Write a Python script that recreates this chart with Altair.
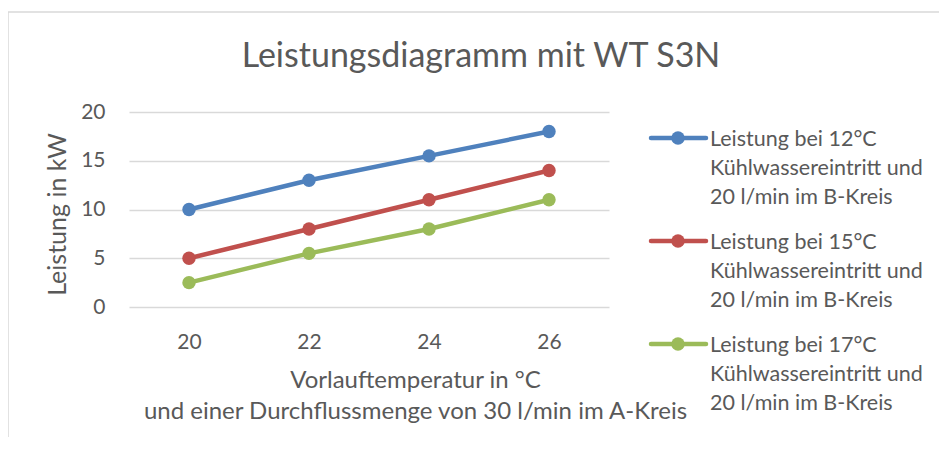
import altair as alt
import pandas as pd

# ---- data ----
temps = ["20", "22", "24", "26"]
series_keys = ["12", "15", "17"]
values_12 = [10, 13, 15.5, 18]
values_15 = [5, 8, 11, 14]
values_17 = [2.5, 5.5, 8, 11]
series_colors = ["#4F81BD", "#C0504D", "#9BBB59"]
legend_labels = [
    "Leistung bei 12°C\nKühlwassereintritt und\n20 l/min im B-Kreis",
    "Leistung bei 15°C\nKühlwassereintritt und\n20 l/min im B-Kreis",
    "Leistung bei 17°C\nKühlwassereintritt und\n20 l/min im B-Kreis",
]
y_ticks = [0, 5, 10, 15, 20]
title_text = "Leistungsdiagramm mit WT S3N"
x_title = ["Vorlauftemperatur in °C", "und einer Durchflussmenge von 30 l/min im A-Kreis"]
y_title = "Leistung in kW"

rows = []
for key, vals in zip(series_keys, [values_12, values_15, values_17]):
    for t, v in zip(temps, vals):
        rows.append({"temp": t, "value": v, "series": key})
df = pd.DataFrame(rows)
legend_df = pd.DataFrame({"series": series_keys, "label": legend_labels})
one_df = pd.DataFrame({"t": [title_text]})

FONT = "Lato"
TXT = "#595959"
GRID = "#D9D9D9"

color = alt.Color("series:N", scale=alt.Scale(domain=series_keys, range=series_colors), legend=None)

lines = alt.Chart(df).mark_line(
    strokeWidth=4.5,
    point=alt.OverlayMarkDef(filled=True, size=180, opacity=1),
).encode(
    x=alt.X("temp:O", sort=temps,
            axis=alt.Axis(title=x_title, labelAngle=0, domain=False, ticks=False, tickSize=0,
                          labelPadding=24, labelFontSize=21, labelColor=TXT, labelFont=FONT,
                          titleFontSize=24, titleColor=TXT, titleFont=FONT, titleFontWeight="normal",
                          titleX=286, titleY=80, titleBaseline="alphabetic", titleAlign="center",
                          titleLineHeight=31)),
    y=alt.Y("value:Q", scale=alt.Scale(domain=[0, 20], nice=False),
            axis=alt.Axis(title=y_title, values=y_ticks, domain=False, ticks=False, tickSize=0,
                          labelPadding=24, labelFontSize=21, labelColor=TXT, labelFont=FONT,
                          gridColor=GRID, gridWidth=1.5,
                          titleFontSize=25, titleColor=TXT, titleFont=FONT, titleFontWeight="normal",
                          titleX=-64, titleY=102, titleAngle=270, titleBaseline="alphabetic",
                          titleAlign="center")),
    color=color,
)

leg_y = alt.Y("series:N", sort=series_keys, axis=None,
              scale=alt.Scale(type="point", domain=series_keys, range=[26, 232], padding=0))

leg_rule = alt.Chart(legend_df).mark_rule(strokeWidth=4.5, strokeCap="round").encode(
    x=alt.value(522), x2=alt.value(577), y=leg_y, color=color)
leg_pt = alt.Chart(legend_df).mark_point(filled=True, size=180, opacity=1).encode(
    x=alt.value(549), y=leg_y, color=color)
leg_txt = alt.Chart(legend_df).mark_text(
    align="left", baseline="alphabetic", dy=8, lineBreak="\n", lineHeight=29,
    fontSize=21.5, font=FONT, color=TXT,
).encode(x=alt.value(581), y=leg_y, text="label:N")

title_mark = alt.Chart(one_df).mark_text(
    align="center", baseline="alphabetic", fontSize=34, font=FONT, color=TXT,
).encode(x=alt.value(352), y=alt.value(-45), text="t:N")

frame_v = alt.Chart(one_df).mark_rule(color=GRID, strokeWidth=1.5).encode(
    x=alt.value(-121), y=alt.value(-100), y2=alt.value(330))
frame_h = alt.Chart(one_df).mark_rule(color=GRID, strokeWidth=1.5).encode(
    x=alt.value(-121), x2=alt.value(820), y=alt.value(-100))

chart = alt.layer(frame_v, frame_h, title_mark, lines, leg_rule, leg_pt, leg_txt).resolve_scale(
    y="independent"
).properties(
    width=480, height=195,
    padding={"left": 121, "top": 104, "right": 330, "bottom": 130},
    autosize="none",
    background="white",
).configure_view(strokeOpacity=0)

chart.save("out.html", embed_options={"renderer": "svg", "actions": False})
